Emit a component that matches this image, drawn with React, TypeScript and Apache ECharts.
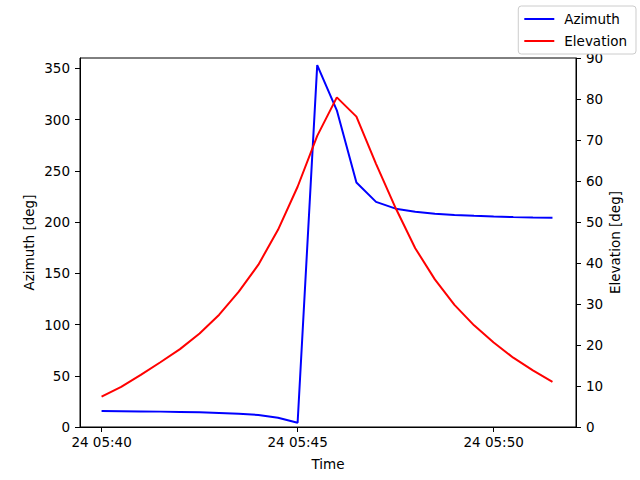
import React, { useEffect, useRef } from 'react'
import * as echarts from 'echarts'

// sample times (UTC, day 24), every 30 s
const times = [
  '05:40:00', '05:40:30', '05:41:00', '05:41:30', '05:42:00', '05:42:30',
  '05:43:00', '05:43:30', '05:44:00', '05:44:30', '05:45:00', '05:45:30',
  '05:46:00', '05:46:30', '05:47:00', '05:47:30', '05:48:00', '05:48:30',
  '05:49:00', '05:49:30', '05:50:00', '05:50:30', '05:51:00', '05:51:30'
]

const azimuth = [
  15.5, 15.4, 15.2, 15.0, 14.7, 14.3, 13.7, 12.9, 11.7, 9.0, 4.2, 353,
  309, 238.5, 219.6, 213, 210, 208, 206.8, 206, 205.3, 204.8, 204.4, 204.1
]

const elevation = [
  7.4, 9.8, 12.7, 15.8, 19.0, 22.8, 27.4, 33.0, 39.6, 48.1, 58.6, 71.0,
  80.4, 75.7, 64.2, 53.4, 43.6, 36.0, 29.8, 24.8, 20.6, 16.9, 13.8, 11.0
]

const timeTicks = ['05:40:00', '05:45:00', '05:50:00']
const azTicks = [0, 50, 100, 150, 200, 250, 300, 350]
const elTicks = [0, 10, 20, 30, 40, 50, 60, 70, 80, 90]

// minutes since 05:40
const toMin = (t: string) => {
  const [h, m, s] = t.split(':').map(Number)
  return (h * 3600 + m * 60 + s - (5 * 3600 + 40 * 60)) / 60
}

const fmtMin = (v: number) => {
  const total = Math.round(v * 60) + 5 * 3600 + 40 * 60
  const h = Math.floor(total / 3600)
  const m = Math.floor((total % 3600) / 60)
  return `24 ${String(h).padStart(2, '0')}:${String(m).padStart(2, '0')}`
}

const FONT = 'DejaVu Sans'

const App: React.FC = () => {
  const chartRef = useRef<HTMLDivElement>(null)

  useEffect(() => {
    if (!chartRef.current) return
    const chart = echarts.init(chartRef.current, undefined, { renderer: 'svg' })

    const axisText = { color: '#000', fontFamily: FONT, fontSize: 13.5 }
    const tick = { show: true, length: 5, lineStyle: { color: '#000', width: 1 } }

    const option: any = {
      animation: false,
      backgroundColor: '#fff',
      textStyle: { fontFamily: FONT },
      grid: {
        left: 80,
        right: 64,
        top: 58,
        bottom: 53,
        show: true,
        borderColor: '#000',
        borderWidth: 1,
        backgroundColor: 'transparent'
      },
      legend: {
        orient: 'vertical',
        right: 4,
        top: 6,
        padding: [6, 9, 6, 6],
        itemGap: 8,
        itemWidth: 30,
        itemHeight: 2,
        icon: 'rect',
        backgroundColor: '#fff',
        borderColor: '#cccccc',
        borderWidth: 1,
        borderRadius: 3,
        textStyle: { ...axisText, padding: [0, 0, 0, 5] },
        data: ['Azimuth', 'Elevation']
      },
      xAxis: {
        type: 'value',
        min: -0.55,
        max: 12.1,
        name: 'Time',
        nameLocation: 'middle',
        nameGap: 30,
        nameMoveOverlap: false,
        nameTextStyle: axisText,
        splitLine: { show: false },
        axisLine: { onZero: false, lineStyle: { color: '#000', width: 1 } },
        axisTick: { ...tick, customValues: timeTicks.map(toMin) },
        axisLabel: {
          ...axisText,
          margin: 8,
          customValues: timeTicks.map(toMin),
          formatter: (v: number) => fmtMin(v)
        }
      },
      yAxis: [
        {
          type: 'value',
          min: 0,
          max: 360,
          position: 'left',
          name: 'Azimuth [deg]',
          nameLocation: 'middle',
          nameGap: 44,
          nameMoveOverlap: false,
          nameTextStyle: axisText,
          splitLine: { show: false },
          axisLine: { show: true, onZero: false, lineStyle: { color: '#000', width: 1 } },
          axisTick: { ...tick, customValues: azTicks },
          axisLabel: { ...axisText, margin: 10, customValues: azTicks }
        },
        {
          type: 'value',
          min: 0,
          max: 90,
          position: 'right',
          name: 'Elevation [deg]',
          nameLocation: 'middle',
          nameGap: 32,
          nameRotate: 90,
          nameMoveOverlap: false,
          nameTextStyle: axisText,
          splitLine: { show: false },
          axisLine: { show: true, onZero: false, lineStyle: { color: '#000', width: 1 } },
          axisTick: { ...tick, customValues: elTicks },
          axisLabel: { ...axisText, margin: 10, customValues: elTicks }
        }
      ],
      series: [
        {
          name: 'Azimuth',
          type: 'line',
          yAxisIndex: 0,
          showSymbol: false,
          symbol: 'none',
          color: '#0000ff',
          lineStyle: { color: '#0000ff', width: 2 },
          data: times.map((t, i) => [toMin(t), azimuth[i]])
        },
        {
          name: 'Elevation',
          type: 'line',
          yAxisIndex: 1,
          showSymbol: false,
          symbol: 'none',
          color: '#ff0000',
          lineStyle: { color: '#ff0000', width: 2 },
          data: times.map((t, i) => [toMin(t), elevation[i]])
        }
      ]
    }

    chart.setOption(option, true)

    return () => {
      chart.dispose()
    }
  }, [])

  return (
    <div
      ref={chartRef}
      style={{ position: 'absolute', left: 0, top: 0, width: 640, height: 480 }}
    />
  )
}

export default App
